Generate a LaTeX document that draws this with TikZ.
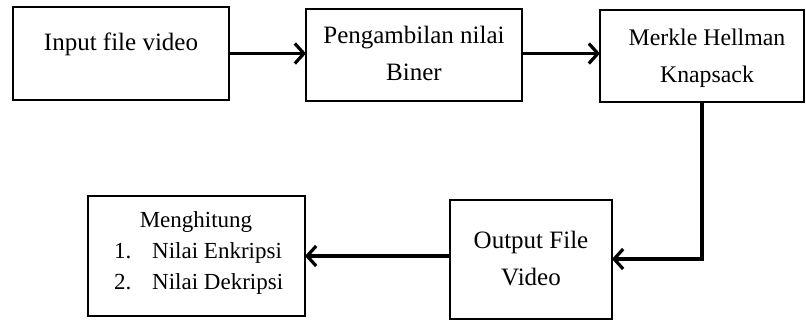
\documentclass[tikz,border=0pt]{standalone}
\usepackage{fontspec}
\setmainfont{Liberation Serif}
\usetikzlibrary{arrows.meta}

\tikzset{
  procbox/.style={draw=black, line width=2.6pt, fill=white, rectangle,
    inner sep=0pt, outer sep=0pt},
  txt/.style={inner sep=0pt, anchor=base, font=\fontsize{25}{30}\selectfont},
  smalltxt/.style={inner sep=0pt, anchor=base west, font=\fontsize{23}{28}\selectfont},
  flow/.style={line width=3.2pt, -{Straight Barb[length=9pt,width=20pt,line width=3.2pt]}},
}

\begin{document}
\begin{tikzpicture}[x=1pt, y=-1pt]
  \useasboundingbox (0,0) rectangle (806,322);

  % process boxes
  \node[procbox, minimum width=216pt, minimum height=93pt]  (b1) at (121,53.5) {};
  \node[procbox, minimum width=216pt, minimum height=92pt]  (b2) at (414,55) {};
  \node[procbox, minimum width=204pt, minimum height=92pt]  (b3) at (702,56) {};
  \node[procbox, minimum width=162pt, minimum height=119pt] (b4) at (531,259.5) {};
  \node[procbox, minimum width=217pt, minimum height=120pt] (b5) at (196.5,256) {};

  % box texts
  \node[txt] (t1)  at (121,50) {Input file video};
  \node[txt] (t2a) at (414,43) {Pengambilan nilai};
  \node[txt] (t2b) at (414,80) {Biner};
  \node[txt, font=\fontsize{23.8}{28}\selectfont] (t3a) at (707,45) {Merkle Hellman};
  \node[txt, font=\fontsize{23.8}{28}\selectfont] (t3b) at (707,82) {Knapsack};
  \node[txt] (t4a) at (531,248) {Output File};
  \node[txt] (t4b) at (531,285) {Video};

  \node[txt, font=\fontsize{23}{28}\selectfont] (t5)  at (196,227) {Menghitung};
  \node[smalltxt] (n1) at (114,258) {1.};
  \node[smalltxt] (l1) at (152,258) {Nilai Enkripsi};
  \node[smalltxt] (n2) at (114,289) {2.};
  \node[smalltxt] (l2) at (152,289) {Nilai Dekripsi};

  % connectors
  \coordinate (c1) at (702,259);
  \draw[flow] (b1.east) -- (b2.west |- b1.east);
  \draw[flow] (b2.east |- b1.east) -- (b3.west |- b1.east);
  \draw[flow] (b3.south) -- (c1) -- (b4.east |- c1);
  \draw[flow] (b4.west |- b5.east) -- (b5.east);
\end{tikzpicture}
\end{document}
